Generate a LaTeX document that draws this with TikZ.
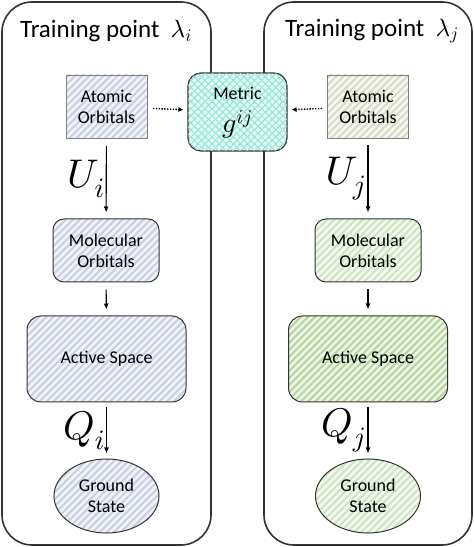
\documentclass[tikz,border=0pt]{standalone}
\usepackage{amsmath}
\DeclareFontFamily{OML}{cmm}{\skewchar\font'177}
\DeclareFontShape{OML}{cmm}{m}{it}{<->cmmi10}{}
\usepackage{fontspec}
\setmainfont{Carlito}
\usepackage{tikz}
\usetikzlibrary{positioning,arrows.meta,patterns.meta,shapes.geometric}
\definecolor{hatchblue}{HTML}{C8D0E2}
\definecolor{hatchgreen}{HTML}{D0E4C0}
\definecolor{hatchgrey}{HTML}{D6DCC6}
\definecolor{activegreen}{HTML}{B4D69C}
\definecolor{metricline}{HTML}{8EE6D4}
\definecolor{metricbg}{HTML}{E6FAF6}
\definecolor{edgegrey}{HTML}{333333}
\tikzset{
  flowarrow/.style={-{Latex[length=6pt,width=5pt]}, line width=1.1pt, shorten <=7pt, shorten >=6pt},
  dotarrow/.style={-{Latex[length=5pt,width=5pt]}, line width=1.4pt, dash pattern=on 1.4pt off 1.4pt, shorten <=5pt, shorten >=4pt},
  panel/.style={draw=edgegrey, line width=1.6pt, rounded corners=30pt},
  hatched/.style={preaction={fill=#1!25!white}, pattern={Lines[angle=45,distance=5pt,line width=2pt]}, pattern color=#1},
  aobox/.style={draw=gray, line width=0.9pt, minimum width=81pt, minimum height=63pt, align=center, font=\fontsize{18}{21}\selectfont},
  mobox/.style={draw=edgegrey, line width=1pt, rounded corners=11pt, minimum width=106pt, minimum height=63pt, align=center, font=\fontsize{18}{21}\selectfont},
  asbox/.style={draw=edgegrey, line width=1pt, rounded corners=14pt, minimum width=159pt, minimum height=86pt, align=center, font=\fontsize{18}{21}\selectfont},
  gsnode/.style={draw=edgegrey, line width=1pt, ellipse, minimum width=105pt, minimum height=74pt, inner sep=0pt, align=center, font=\fontsize{18}{21}\selectfont},
  metricbox/.style={draw=edgegrey, line width=1.2pt, rounded corners=13pt, minimum width=99pt, minimum height=78pt, align=center, font=\fontsize{18}{21}\selectfont,
    preaction={fill=metricbg}, pattern={Lines[angle=45,distance=5pt,line width=1pt]}, pattern color=metricline,
    postaction={pattern={Lines[angle=-45,distance=5pt,line width=1pt]}, pattern color=metricline}},
  title/.style={font=\fontsize{25}{29}\selectfont},
  maplabel/.style={font=\fontsize{40}{44}\selectfont, inner sep=1pt}
}

\begin{document}
\begin{tikzpicture}[x=1pt, y=1pt]
  \useasboundingbox (0,0) rectangle (474,547);
  \draw[panel] (2,2) rectangle (211,545);
  \draw[panel] (264,2) rectangle (472,545);

  \node[title] (ti) at (106,516) {Training point \ $\lambda_i$};
  \node[title] (tj) at (372,516) {Training point \ $\lambda_j$};

  \node[aobox, hatched=hatchblue] (aoi) at (106.5,440.5) {Atomic\\Orbitals};
  \node[aobox, hatched=hatchgrey] (aoj) at (368,440.5) {Atomic\\Orbitals};
  \node[metricbox] (metric) at (237.5,435) {};
  \node[font=\fontsize{18}{21}\selectfont] (metrictext) at (237.5,454) {Metric};
  \node[font=\fontsize{28}{30}\selectfont] (gij) at (237.5,423) {$g^{ij}$};

  \node[mobox, hatched=hatchblue] (moi) at (106,296.5) {Molecular\\Orbitals};
  \node[mobox, hatched=hatchgreen] (moj) at (368,296.5) {Molecular\\Orbitals};
  \node[asbox, hatched=hatchblue] (asi) at (106.5,188) {Active Space};
  \node[asbox, hatched=activegreen] (asj) at (368,188) {Active Space};
  \node[gsnode, hatched=hatchblue] (gsi) at (106.5,51) {Ground\\State};
  \node[gsnode, hatched=hatchgreen] (gsj) at (368,51) {Ground\\State};

  \draw[dotarrow] (aoi) -- (metric);
  \draw[dotarrow] (aoj) -- (metric);

  \draw[flowarrow] (aoi) -- node[maplabel, left] (ui) {$U_i$} (moi);
  \draw[flowarrow] (aoj) -- node[maplabel, left] (uj) {$U_j$} (moj);
  \draw[flowarrow] (moi) -- (asi);
  \draw[flowarrow] (moj) -- (asj);
  \draw[flowarrow, shorten <=5pt, shorten >=5pt] (asi) -- node[maplabel, left] (qi) {$Q_i$} (gsi);
  \draw[flowarrow, shorten <=5pt, shorten >=5pt] (asj) -- node[maplabel, left] (qj) {$Q_j$} (gsj);
\end{tikzpicture}
\end{document}
